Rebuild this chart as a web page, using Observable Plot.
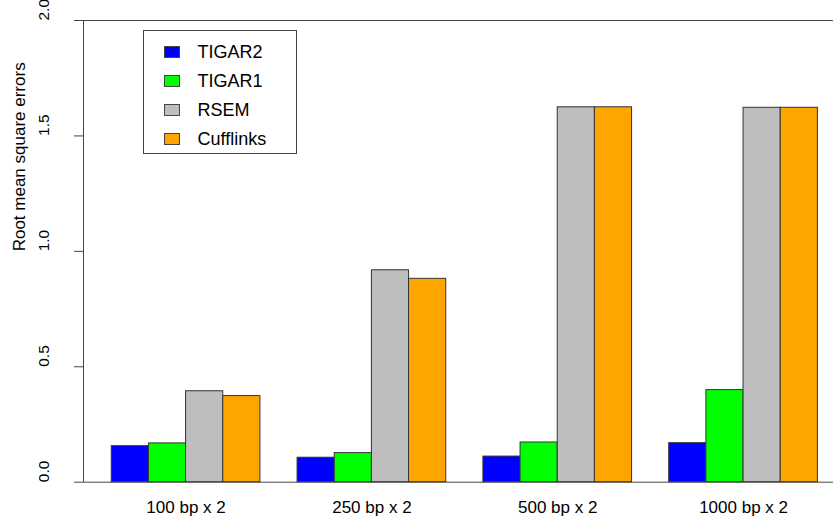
<!DOCTYPE html>
<html>
<head>
<meta charset="utf-8">
<script src="https://cdn.jsdelivr.net/npm/d3@7"></script>
<script src="https://cdn.jsdelivr.net/npm/@observablehq/plot@0.6"></script>
<style>
  html, body { margin: 0; padding: 0; background: white; overflow: hidden; }
  #wrap { position: relative; width: 833px; height: 518px; font-family: "Liberation Sans", Arial, sans-serif; }
  #legend { position: absolute; left: 142.5px; top: 30px; width: 154px; height: 124px; border: 1px solid #444; background: white; box-sizing: border-box; }
  .row { position: absolute; left: 0; height: 0; }
  .sw { position: absolute; left: 20px; width: 16px; height: 12px; margin-top: -6px; border: 1px solid #444; box-sizing: border-box; }
  .lab { position: absolute; left: 54px; font-size: 18px; line-height: 18px; margin-top: -9px; white-space: nowrap; color: #000; }
</style>
</head>
<body>
<div id="wrap"></div>
<script>
const groups = ["100 bp x 2", "250 bp x 2", "500 bp x 2", "1000 bp x 2"];
const series = ["TIGAR2", "TIGAR1", "RSEM", "Cufflinks"];
const colors = ["#0000FF", "#00FF00", "#BEBEBE", "#FFA500"];
const tigar2 = [0.156, 0.106, 0.111, 0.169];
const tigar1 = [0.168, 0.126, 0.172, 0.399];
const rsem = [0.394, 0.918, 1.624, 1.622];
const cufflinks = [0.373, 0.881, 1.624, 1.622];
const yTicks = [0, 0.5, 1, 1.5, 2];

const values = [tigar2, tigar1, rsem, cufflinks];
// R barplot(beside=TRUE) layout: bar width 1, one gap unit before each group
const rows = groups.flatMap((g, gi) => series.map((s, si) => ({
  group: g, series: s, value: values[si][gi],
  x1: gi * 5 + 1 + si, x2: gi * 5 + 2 + si
})));
const centers = groups.map((g, gi) => gi * 5 + 3);
const xDomain = [0.24, 20.42];

const chart = Plot.plot({
  width: 833, height: 518,
  marginLeft: 83, marginRight: 0, marginTop: 20, marginBottom: 36.3,
  x: {domain: xDomain, axis: null},
  y: {domain: [0, 2], axis: null},
  color: {domain: series, range: colors},
  style: {fontFamily: "'Liberation Sans', Arial, sans-serif", background: "white", color: "#000", overflow: "visible"},
  marks: [
    Plot.rectY(rows, {x1: "x1", x2: "x2", y: "value", fill: "series", stroke: "#333", strokeWidth: 1}),
    Plot.ruleY([0, 2], {stroke: "#444"}),
    Plot.ruleX([xDomain[0]], {stroke: "#444"}),
    Plot.axisY(yTicks, {tickSize: 9, tickFormat: () => "", label: null, stroke: "#444"}),
    Plot.text(yTicks, {y: d => d, text: d => d.toFixed(1), frameAnchor: "left", dx: -39, rotate: -90, fontSize: 15.5, fill: "#000"}),
    Plot.text(["Root mean square errors"], {text: d => d, frameAnchor: "left", dx: -64, rotate: -90, fontSize: 17, fill: "#000"}),
    Plot.axisX(centers, {tickSize: 0, tickPadding: 19, fontSize: 17, label: null, tickFormat: d => groups[centers.indexOf(d)]})
  ]
});
const wrap = document.getElementById("wrap");
wrap.appendChild(chart);

const legend = document.createElement("div");
legend.id = "legend";
const rowY = [21, 50, 79, 108];
series.forEach((s, i) => {
  const r = document.createElement("div");
  r.className = "row";
  r.style.top = rowY[i] + "px";
  r.innerHTML = `<div class="sw" style="background:${colors[i]}"></div><div class="lab">${s}</div>`;
  legend.appendChild(r);
});
wrap.appendChild(legend);
</script>
</body>
</html>
